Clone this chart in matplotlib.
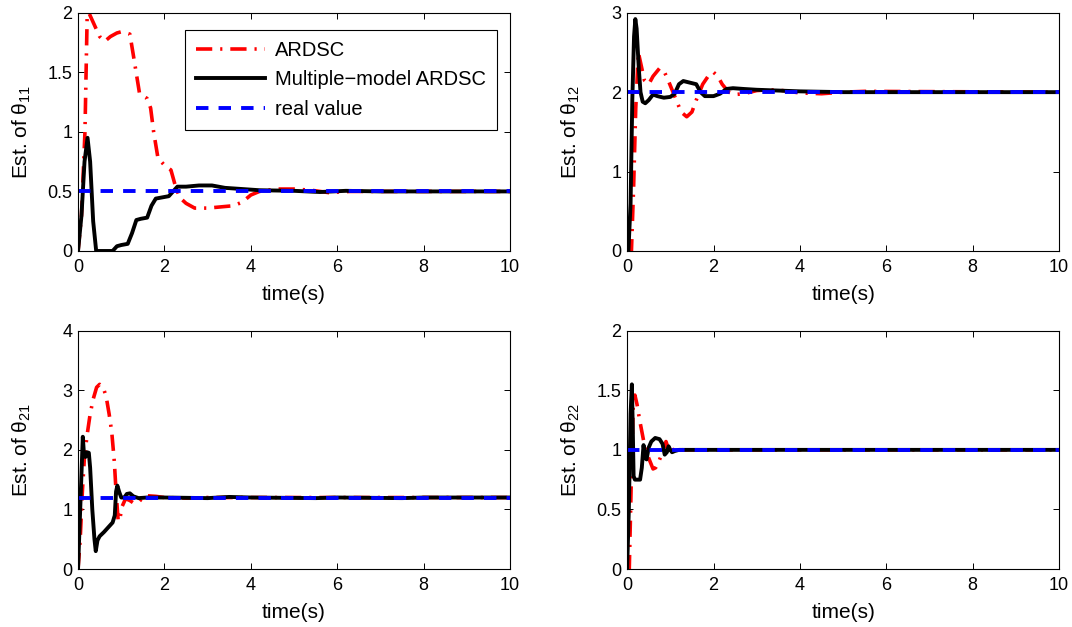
import matplotlib
matplotlib.use("Agg")
import matplotlib.pyplot as plt
import numpy as np

plt.rcParams['font.family'] = ['Liberation Sans', 'DejaVu Sans']
plt.rcParams['mathtext.fontset'] = 'custom'
plt.rcParams['mathtext.rm'] = 'Liberation Sans'
plt.rcParams['mathtext.it'] = 'Liberation Sans:italic'
plt.rcParams['font.size'] = 13

# theta_11
t11_red = [0, 0.08, 0.16, 0.21, 0.25, 0.35, 0.5, 0.62, 0.75, 0.9, 1.0, 1.2, 1.3, 1.42, 1.5, 1.6, 1.68,
           1.75, 1.85, 2.0, 2.15, 2.25, 2.35, 2.5, 2.7, 3.0, 3.3, 3.6, 3.8, 4.0, 4.2, 4.6, 5.0, 5.4, 5.8, 6.3, 10]
v11_red = [0, 0.3, 1.0, 1.95, 2.0, 1.92, 1.8, 1.76, 1.8, 1.83, 1.84, 1.82, 1.6, 1.33, 1.3, 1.28, 1.2,
           1.0, 0.78, 0.72, 0.68, 0.55, 0.45, 0.4, 0.36, 0.36, 0.37, 0.38, 0.41, 0.47, 0.5, 0.52, 0.52, 0.51, 0.49, 0.5, 0.5]
t11_mm = [0, 0.08, 0.15, 0.22, 0.28, 0.35, 0.42, 0.8, 0.9, 1.0, 1.15, 1.25, 1.35, 1.45, 1.6, 1.7, 1.8,
          1.95, 2.1, 2.2, 2.3, 2.5, 2.8, 3.1, 3.4, 3.8, 4.2, 5.0, 5.6, 6.2, 7.0, 8.0, 10]
v11_mm = [0, 0.3, 0.75, 0.95, 0.75, 0.25, 0.0, 0.0, 0.04, 0.05, 0.06, 0.15, 0.26, 0.27, 0.28, 0.38, 0.44,
          0.45, 0.46, 0.5, 0.54, 0.54, 0.55, 0.55, 0.53, 0.52, 0.51, 0.505, 0.495, 0.505, 0.5, 0.5, 0.5]

# theta_12
t12_red = [0, 0.1, 0.15, 0.2, 0.26, 0.32, 0.4, 0.5, 0.6, 0.75, 0.85, 0.95, 1.1, 1.25, 1.38, 1.5, 1.6,
           1.75, 1.9, 2.0, 2.1, 2.2, 2.35, 2.5, 2.7, 3.0, 3.3, 3.6, 4.0, 4.5, 5.0, 5.5, 10]
v12_red = [0, 0.0, 0.8, 1.8, 2.5, 2.35, 2.15, 2.1, 2.2, 2.3, 2.27, 2.15, 1.95, 1.75, 1.69, 1.75, 1.9,
           2.1, 2.22, 2.25, 2.2, 2.1, 2.0, 1.97, 1.98, 2.02, 2.03, 2.02, 1.99, 1.98, 2.0, 2.01, 2.0]
t12_mm = [0, 0.03, 0.08, 0.12, 0.16, 0.19, 0.22, 0.27, 0.31, 0.36, 0.42, 0.5, 0.6, 0.7, 0.85, 1.0, 1.1,
          1.2, 1.3, 1.45, 1.6, 1.7, 1.8, 2.0, 2.15, 2.3, 2.45, 2.7, 3.0, 3.5, 4.0, 5.0, 10]
v12_mm = [0, 0, 0.6, 1.9, 2.7, 2.92, 2.8, 2.3, 2.0, 1.88, 1.86, 1.9, 1.97, 1.95, 1.93, 1.94, 1.98,
          2.1, 2.14, 2.12, 2.1, 2.0, 1.95, 1.95, 1.98, 2.04, 2.05, 2.04, 2.03, 2.02, 2.01, 2.0, 2.0]

# theta_21
t21_red = [0, 0.05, 0.1, 0.15, 0.22, 0.28, 0.35, 0.43, 0.5, 0.58, 0.65, 0.72, 0.78, 0.84, 0.88, 0.93,
           0.97, 1.02, 1.1, 1.2, 1.3, 1.4, 1.5, 1.6, 1.8, 2.0, 2.5, 3.0, 10]
v21_red = [0, 0.5, 1.3, 1.9, 2.3, 2.6, 2.85, 3.05, 3.1, 3.05, 2.9, 2.6, 2.3, 1.8, 1.3, 0.8,
           0.85, 1.05, 1.18, 1.15, 1.1, 1.12, 1.2, 1.23, 1.22, 1.2, 1.19, 1.2, 1.2]
t21_mm = [0, 0.05, 0.11, 0.14, 0.17, 0.21, 0.25, 0.28, 0.33, 0.38, 0.41, 0.45, 0.5, 0.6, 0.7, 0.8, 0.85,
          0.88, 0.91, 0.95, 1.0, 1.07, 1.13, 1.2, 1.28, 1.4, 1.6, 2.0, 3.0, 3.5, 4.0, 5.5, 6.0, 7.5, 8.0, 10]
v21_mm = [0, 1.0, 2.22, 1.9, 1.88, 1.96, 1.95, 1.7, 1.0, 0.5, 0.3, 0.48, 0.55, 0.62, 0.7, 0.78, 0.9,
          1.3, 1.4, 1.3, 1.2, 1.2, 1.26, 1.27, 1.22, 1.19, 1.2, 1.2, 1.19, 1.21, 1.2, 1.19, 1.2, 1.19, 1.2, 1.2]

# theta_22
t22_red = [0, 0.05, 0.1, 0.14, 0.18, 0.23, 0.29, 0.38, 0.49, 0.6, 0.66, 0.72, 0.83, 0.9, 0.98, 1.05,
           1.15, 1.3, 10]
v22_red = [0, 0.0, 0.8, 1.35, 1.46, 1.38, 1.25, 1.08, 0.94, 0.84, 0.85, 0.89, 0.99, 1.07, 0.98, 1.0,
           1.01, 1.0, 1.0]
t22_mm = [0, 0.04, 0.08, 0.11, 0.13, 0.15, 0.18, 0.3, 0.34, 0.38, 0.42, 0.45, 0.5, 0.56, 0.65, 0.75,
          0.82, 0.87, 0.92, 0.96, 1.0, 1.04, 1.1, 1.2, 10]
v22_mm = [0, 0.5, 1.3, 1.55, 1.2, 0.78, 0.75, 0.75, 0.85, 1.04, 0.93, 0.92, 1.02, 1.07, 1.1, 1.09,
          1.05, 0.96, 0.98, 1.03, 1.0, 0.98, 0.99, 1.0, 1.0]

real_values = [0.5, 2.0, 1.2, 1.0]
ylims = [2, 3, 4, 2]
yticks = [[0, 0.5, 1, 1.5, 2], [0, 1, 2, 3], [0, 1, 2, 3, 4], [0, 0.5, 1, 1.5, 2]]
ylabels = ['Est. of θ$_{11}$', 'Est. of θ$_{12}$', 'Est. of θ$_{21}$', 'Est. of θ$_{22}$']
reds = [(t11_red, v11_red), (t12_red, v12_red), (t21_red, v21_red), (t22_red, v22_red)]
mms = [(t11_mm, v11_mm), (t12_mm, v12_mm), (t21_mm, v21_mm), (t22_mm, v22_mm)]

fig = plt.figure(figsize=(10.72, 6.27), dpi=100)
positions = [[0.0728, 0.5997, 0.403, 0.380], [0.585, 0.5997, 0.403, 0.380],
             [0.0728, 0.0925, 0.403, 0.380], [0.585, 0.0925, 0.403, 0.380]]

for i in range(4):
    ax = fig.add_axes(positions[i])
    ax.plot(reds[i][0], reds[i][1], color='red', lw=2.6, dashes=(4.5, 2.2, 0.6, 2.2), label='ARDSC')
    ax.plot(mms[i][0], mms[i][1], color='black', lw=2.8, label='Multiple\u2212model ARDSC')
    ax.plot([0, 10], [real_values[i], real_values[i]], color='blue', lw=2.8, dashes=(3.2, 2.6),
            label='real value')
    ax.set_xlim(0, 10)
    ax.set_ylim(0, ylims[i])
    ax.set_xticks([0, 2, 4, 6, 8, 10])
    ax.set_yticks(yticks[i])
    ax.set_yticklabels([('%g' % v) for v in yticks[i]])
    ax.tick_params(direction='in', top=True, right=True, length=4, width=0.7, labelsize=13)
    ax.tick_params(axis='x', pad=6)
    ax.tick_params(axis='y', pad=4)
    for s in ax.spines.values():
        s.set_linewidth(0.8)
    ax.set_xlabel('time(s)', fontsize=15, labelpad=6)
    ax.set_ylabel(ylabels[i], fontsize=15)
    ax.yaxis.set_label_coords(-0.105, 0.5)
    if i == 0:
        leg = ax.legend(loc='upper right', bbox_to_anchor=(0.97, 0.929), borderaxespad=0, fontsize=14.5,
                        fancybox=False, edgecolor='black', framealpha=1, handlelength=3.4,
                        labelspacing=0.52, borderpad=0.55, handletextpad=0.5)
        leg.get_frame().set_linewidth(0.8)

fig.savefig('out.png', dpi=100)
